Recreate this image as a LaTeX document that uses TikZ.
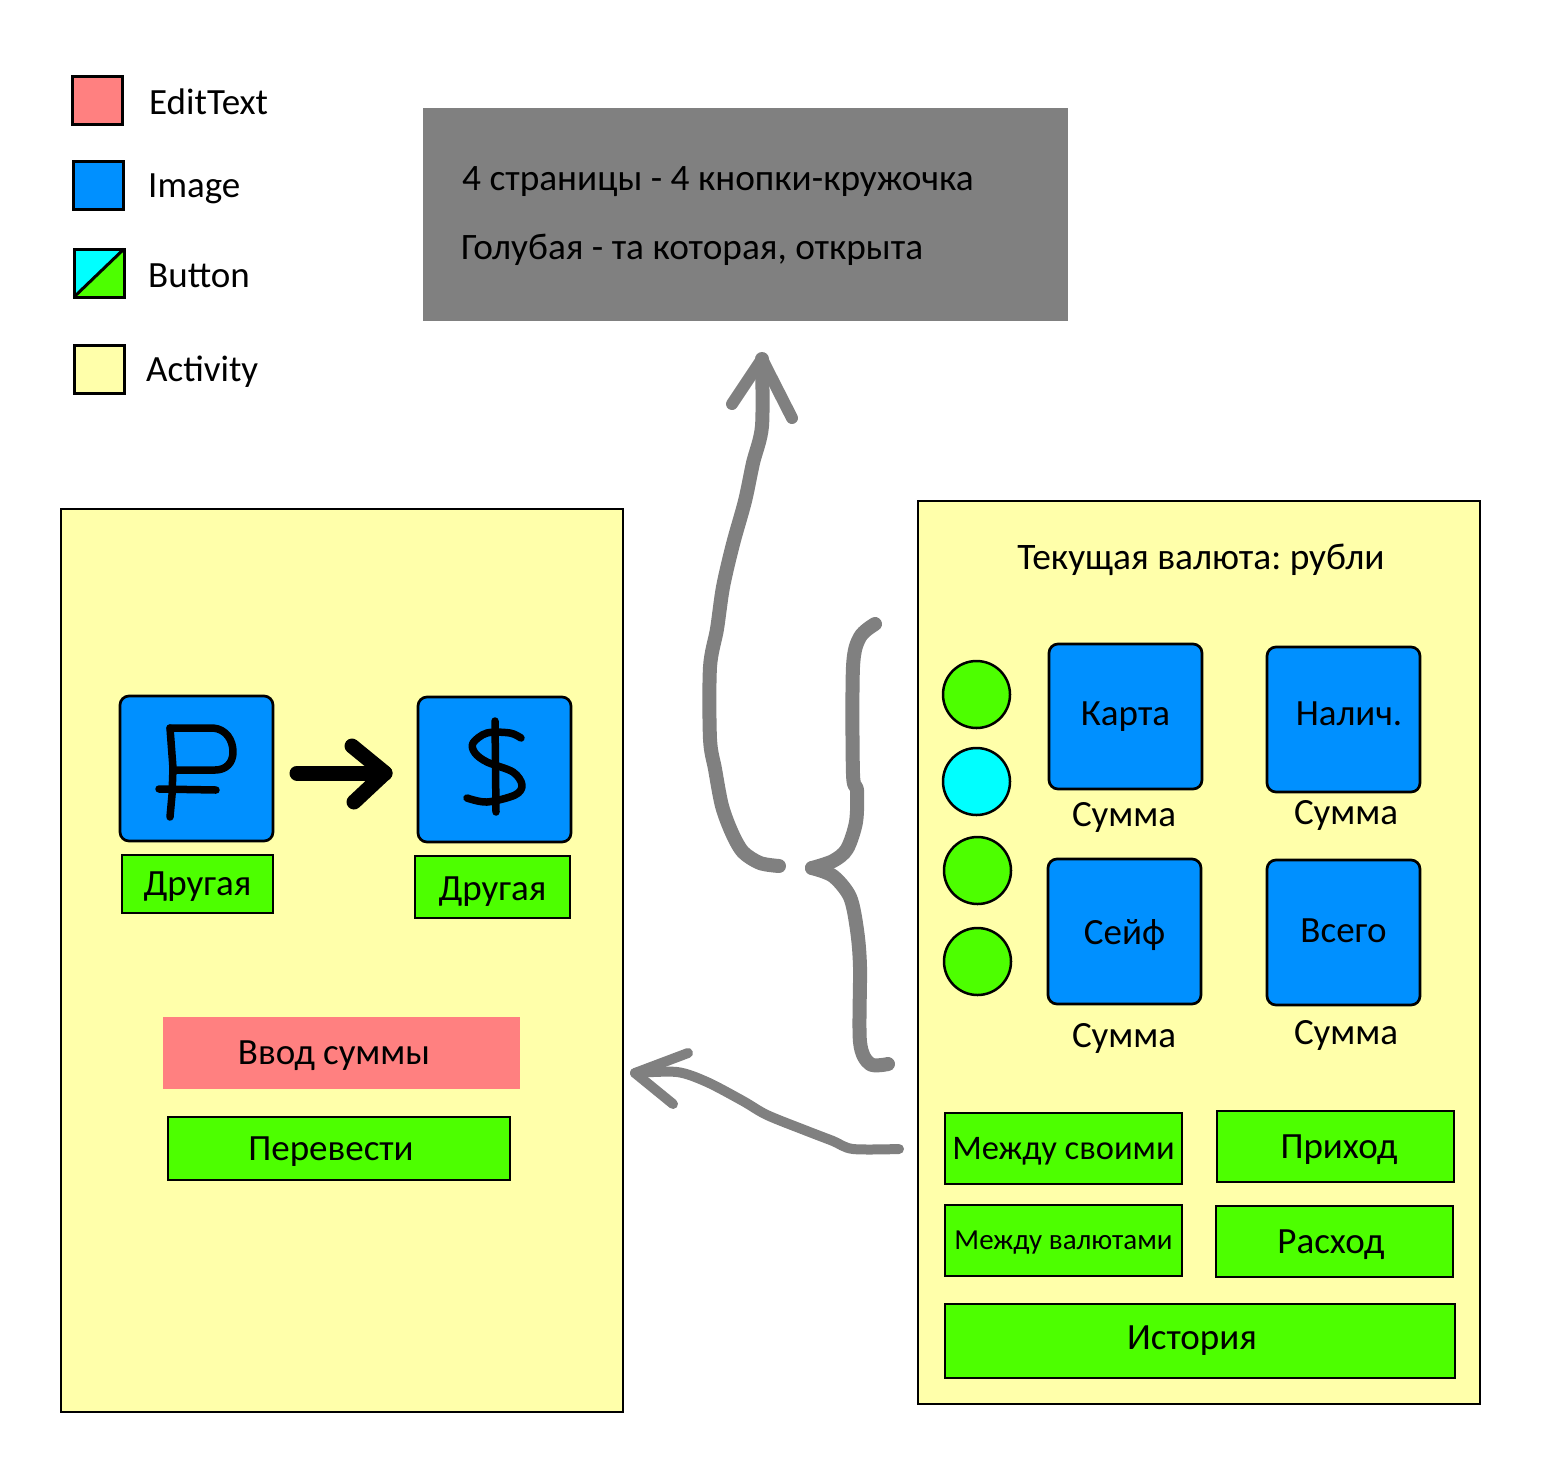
\documentclass[tikz,border=0pt]{standalone}
\usepackage{fontspec}
\setmainfont{Carlito}
\frenchspacing
\usetikzlibrary{positioning}

\definecolor{activityyellow}{HTML}{FFFFAA}
\definecolor{imageblue}{HTML}{0090FF}
\definecolor{buttongreen}{HTML}{4DFF00}
\definecolor{buttoncyan}{HTML}{00FFFF}
\definecolor{editred}{HTML}{FF8080}
\definecolor{notegray}{HTML}{808080}

\tikzset{
	textstyle/.style={font=\fontsize{#1}{#1}\selectfont,text height=#1*0.65pt,text depth=#1*0.01pt,inner sep=0pt},
	textstyle/.default=37,
	legendlabel/.style={textstyle,anchor=west},
	notelabel/.style={textstyle=37.3,anchor=west},
	activity/.style={draw,line width=2.7pt,fill=activityyellow},
	imagebox/.style={draw,line width=2.7pt,fill=imageblue,rounded corners=9pt,textstyle,
		minimum width=153pt,minimum height=145pt},
	buttonbox/.style={draw,line width=2.7pt,fill=buttongreen,textstyle},
	roundbutton/.style={circle,draw,line width=2.5pt,minimum size=67pt,inner sep=0pt},
	legendbox/.style={draw,line width=3pt,minimum width=50pt,minimum height=48pt,inner sep=0pt},
	sketch/.style={notegray,line width=14pt,line cap=round,line join=round},
	thinsketch/.style={sketch,line width=10pt},
	inksketch/.style={black,line width=7.5pt,line cap=round,line join=round}
}

\begin{document}
\begin{tikzpicture}[x=1pt,y=-1pt]
\useasboundingbox (0,0) rectangle (1549,1470);

% legend
\node[legendbox,fill=editred] (legendedit) at (97,100) {};
\node[legendlabel] (edittext) at (149,103) {EditText};
\node[legendbox,fill=imageblue] (legendimage) at (98,185) {};
\node[legendlabel] (imagetext) at (148,186) {Image};
\node[legendbox,fill=buttongreen,outer sep=0pt] (legendbutton) at (99,273) {};
\fill[buttoncyan] (legendbutton.north west) -- (legendbutton.north east) -- (legendbutton.south west) -- cycle;
\draw[line width=3pt] (legendbutton.south west) -- (legendbutton.north east);
\draw[line width=3pt] (legendbutton.south west) rectangle (legendbutton.north east);
\node[legendlabel] (buttontext) at (148,276) {Button};
\node[legendbox,fill=activityyellow] (legendactivity) at (99,369) {};
\node[legendlabel] (activitytext) at (146,370) {Activity};

% note
\node[fill=notegray,minimum width=645pt,minimum height=213pt] (note) at (745.5,214.5) {};
\node[notelabel] (noteone) at (462,179) {4 страницы - 4 кнопки-кружочка};
\node[notelabel] (notetwo) at (461,248) {Голубая - та которая, открыта};

% activities
\node[activity,minimum width=562pt,minimum height=903pt] (transfer) at (342,960.5) {};
\node[activity,minimum width=562pt,minimum height=903pt] (main) at (1199,952.5) {};

% transfer screen
\node[imagebox] (rublebox) at (196.5,768.5) {};
\node[imagebox] (dollarbox) at (494.5,769.5) {};
\node[buttonbox,minimum width=151pt,minimum height=58pt] (otherleft) at (197.5,884) {Другая};
\node[buttonbox,minimum width=155pt,minimum height=62pt] (otherright) at (492.5,887) {\raisebox{-1.5pt}{Другая}};
\node[fill=editred,textstyle,minimum width=357pt,minimum height=72pt] (amount) at (341.5,1053) {\hspace*{-15pt}Ввод суммы};
\node[buttonbox,minimum width=342pt,minimum height=63pt] (send) at (339,1148.5) {\hspace*{-16pt}Перевести};

% ruble sign
\draw[inksketch] (170,728) -- (173,768) -- (172,795) -- (170,817);
\draw[inksketch] (170,728) -- (213,728) .. controls (226,729) and (233,740) .. (233,752)
	.. controls (233,763) and (226,770) .. (215,770) -- (173,770);
\draw[inksketch] (159,789) -- (216,790);

% dollar sign
\draw[inksketch] (495,721) -- (496,812);
\draw[inksketch] plot[smooth,tension=0.55] coordinates {(521,738) (510,733) (487,733) (473,743)
	(475,753) (487,762) (513,772) (522,785) (515,795) (487,802) (467,798)};

% arrow between currencies
\draw[inksketch,line width=15pt] (297,773) -- (385,773);
\draw[inksketch,line width=15pt] (352,746) -- (385,773) -- (354,802);

% main screen
\node[textstyle=37.4] (current) at (1201,558) {Текущая валюта: рубли};
\node[roundbutton,fill=buttongreen] (dotone) at (976.5,694.5) {};
\node[roundbutton,fill=buttoncyan] (dottwo) at (976.5,781.5) {};
\node[roundbutton,fill=buttongreen] (dotthree) at (977.5,870.5) {};
\node[roundbutton,fill=buttongreen] (dotfour) at (977.5,961.5) {};

\node[imagebox] (card) at (1125.5,716.5) {\raisebox{2.5pt}{Карта}};
\node[imagebox] (cash) at (1343.5,719.5) {\hspace*{11pt}\raisebox{5.5pt}{Налич.}};
\node[imagebox] (safe) at (1124.5,931.5) {\raisebox{-1.5pt}{Сейф}};
\node[imagebox] (total) at (1343.5,932.5) {\raisebox{1.5pt}{Всего}};
\node[textstyle] (sumcard) at (1124,815) {Сумма};
\node[textstyle] (sumcash) at (1346,813) {Сумма};
\node[textstyle] (sumsafe) at (1124,1036) {Сумма};
\node[textstyle] (sumtotal) at (1346,1033) {Сумма};

\node[buttonbox,textstyle=34.5,minimum width=237pt,minimum height=71pt] (between) at (1063.5,1148.5) {Между своими};
\node[buttonbox,minimum width=237pt,minimum height=71pt] (income) at (1335.5,1146.5) {\hspace*{7pt}Приход};
\node[buttonbox,textstyle=29,minimum width=237pt,minimum height=71pt] (exchange) at (1063.5,1240.5) {Между валютами};
\node[buttonbox,minimum width=237pt,minimum height=71pt] (expense) at (1334.5,1241.5) {\hspace*{-7pt}Расход};
\node[buttonbox,minimum width=510pt,minimum height=74pt] (history) at (1200,1341) {\hspace*{-16pt}\raisebox{3.5pt}{История}};

% hand drawn arrow to note
\draw[sketch] plot[smooth,tension=0.5] coordinates {(779,866) (760,863) (743,852) (732,833) (722,806)
	(715,769) (710,739) (710,667) (717,629) (723,587) (733,544) (745,501) (753,463) (762,426) (762,359)};
\draw[sketch,line width=12pt] (732,404) -- (762,359) -- (792,418);

% hand drawn brace
\draw[sketch] plot[smooth,tension=0.5] coordinates {(875,624) (860,637) (853,667) (853,774) (857,790)
	(856,822) (847,849) (833,861) (812,868)};
\draw[sketch] plot[smooth,tension=0.5] coordinates {(812,868) (833,876) (850,897) (857,930) (860,967)
	(860,1042) (870,1064) (888,1064)};

% hand drawn arrow to transfer screen
\draw[thinsketch] plot[smooth,tension=0.5] coordinates {(899,1149) (853,1149) (833,1141) (807,1131)
	(767,1115) (743,1101) (707,1082) (677,1072) (635,1073)};
\draw[thinsketch] (688,1053) -- (635,1073) -- (673,1104);

\end{tikzpicture}
\end{document}
